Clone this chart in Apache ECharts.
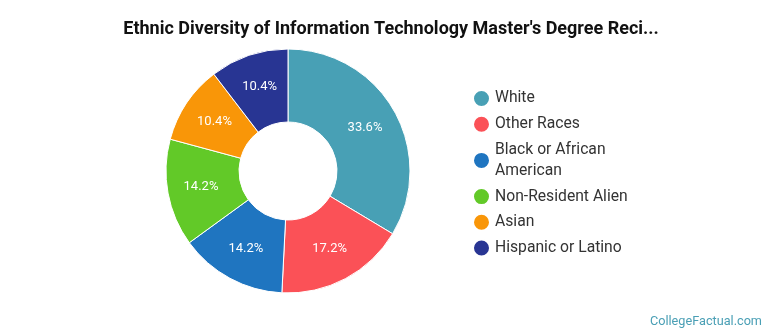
<!DOCTYPE html>
<html><head><meta charset="utf-8">
<script src="https://cdn.jsdelivr.net/npm/echarts@6/dist/echarts.min.js"></script>
<style>html,body{margin:0;padding:0;background:#fff}#c{width:770px;height:335px}</style>
</head><body><div id="c"></div>
<script>
const categories = ["White","Other Races","Black or African American","Non-Resident Alien","Asian","Hispanic or Latino"];
const values = [33.6,17.2,14.2,14.2,10.4,10.4];
const colors = ["#48a0b5","#fb5157","#1f75c0","#62c928","#f99608","#283593"];
const chart = echarts.init(document.getElementById('c'));
chart.setOption({
  animation:false,
  title:{text:"Ethnic Diversity of Information Technology Master's Degree Reci...",left:386,textAlign:'center',top:15,
    textStyle:{fontFamily:'Roboto',fontWeight:'bold',fontSize:18,color:'#111'}},
  graphic:[{type:'text',right:8,bottom:7,style:{text:'CollegeFactual.com',fill:'#4a9fb5',font:'12.7px Roboto'}}],
  legend:{orient:'vertical',left:467,top:83,icon:'circle',itemWidth:17,itemHeight:17,itemGap:4.7,
    textStyle:{fontFamily:'Roboto',fontSize:15.7,color:'#333',lineHeight:21},
    formatter:n=>n==="Black or African American"?"Black or African\nAmerican":n,
    data:categories},
  series:[{type:'pie',center:[288,171],radius:[49,122],startAngle:90,clockwise:true,
    itemStyle:{borderColor:'#fff',borderWidth:1},
    label:{position:'inside',formatter:p=>p.value.toFixed(1)+'%',color:'#fff',fontFamily:'Roboto',fontSize:13},
    labelLine:{show:false},
    data:categories.map((c,i)=>({name:c,value:values[i],itemStyle:{color:colors[i]}}))}]
});
</script></body></html>
